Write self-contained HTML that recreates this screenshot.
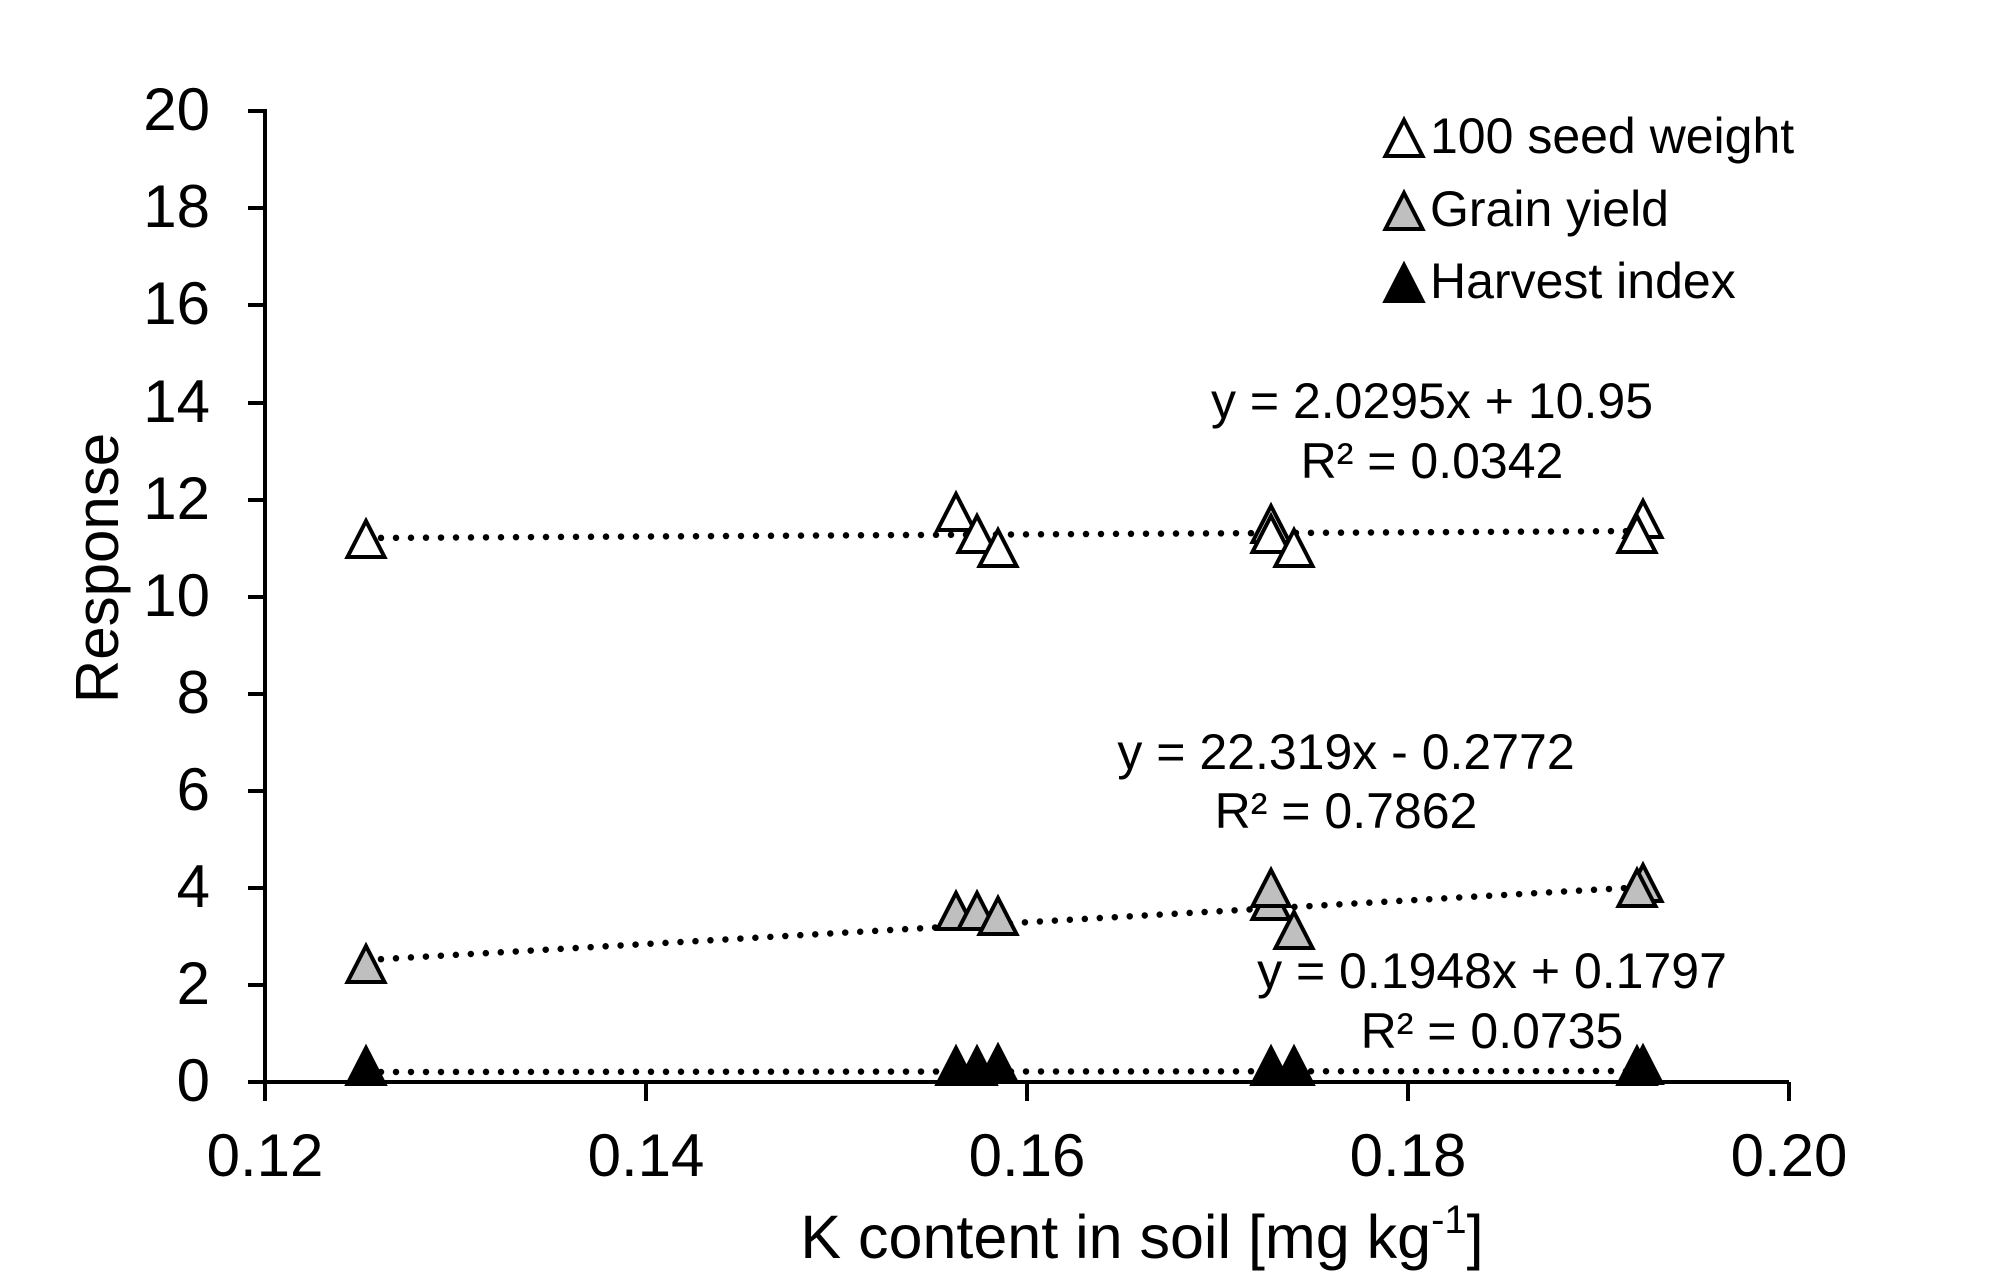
<!DOCTYPE html>
<html><head><meta charset="utf-8"><style>
html,body{margin:0;padding:0;background:#fff}
svg{display:block}
text{font-family:"Liberation Sans",Arial,sans-serif;fill:#000}
</style></head><body>
<svg width="2000" height="1282" viewBox="0 0 2000 1282" xmlns="http://www.w3.org/2000/svg">
<defs>
<polygon id="tri" points="0,-24 -18.5,12 18.5,12" stroke="#000" stroke-width="4" stroke-linejoin="miter"/>
</defs>
<rect width="2000" height="1282" fill="#fff"/>
<g stroke="#000" stroke-width="4" fill="none">
<line x1="265" y1="109" x2="265" y2="1084"/>
<line x1="263" y1="1082" x2="1789" y2="1082"/>
<line x1="248" y1="111" x2="265" y2="111"/>
<line x1="248" y1="208" x2="265" y2="208"/>
<line x1="248" y1="305" x2="265" y2="305"/>
<line x1="248" y1="403" x2="265" y2="403"/>
<line x1="248" y1="500" x2="265" y2="500"/>
<line x1="248" y1="597" x2="265" y2="597"/>
<line x1="248" y1="694" x2="265" y2="694"/>
<line x1="248" y1="791" x2="265" y2="791"/>
<line x1="248" y1="888" x2="265" y2="888"/>
<line x1="248" y1="985" x2="265" y2="985"/>
<line x1="248" y1="1082" x2="265" y2="1082"/>
<line x1="265" y1="1082" x2="265" y2="1101"/>
<line x1="646" y1="1082" x2="646" y2="1101"/>
<line x1="1027" y1="1082" x2="1027" y2="1101"/>
<line x1="1408" y1="1082" x2="1408" y2="1101"/>
<line x1="1789" y1="1082" x2="1789" y2="1101"/>
</g>
<g font-size="60" text-anchor="end">
<text x="210" y="130">20</text>
<text x="210" y="227">18</text>
<text x="210" y="324">16</text>
<text x="210" y="422">14</text>
<text x="210" y="519">12</text>
<text x="210" y="616">10</text>
<text x="210" y="713">8</text>
<text x="210" y="810">6</text>
<text x="210" y="907">4</text>
<text x="210" y="1004">2</text>
<text x="210" y="1101">0</text>
</g>
<g font-size="60" text-anchor="middle">
<text x="265" y="1176">0.12</text>
<text x="646" y="1176">0.14</text>
<text x="1027" y="1176">0.16</text>
<text x="1408" y="1176">0.18</text>
<text x="1789" y="1176">0.20</text>
</g>
<text x="1142" y="1258" font-size="61" text-anchor="middle">K content in soil [mg kg<tspan dy="-25" font-size="40">-1</tspan><tspan dy="25">]</tspan></text>
<text transform="translate(118,568) rotate(-90)" font-size="60" text-anchor="middle">Response</text>

<g stroke="#000" stroke-width="6.5" stroke-linecap="round" stroke-dasharray="0 15" fill="none">
<line x1="366" y1="538" x2="1643" y2="531"/>
<line x1="366" y1="960" x2="1643" y2="887"/>
<line x1="366" y1="1072" x2="1643" y2="1071"/>
</g>

<g fill="#fff">
<use href="#tri" x="366" y="545"/>
<use href="#tri" x="956" y="518"/>
<use href="#tri" x="977" y="540"/>
<use href="#tri" x="998" y="554"/>
<use href="#tri" x="1271" y="530"/>
<use href="#tri" x="1271" y="540"/>
<use href="#tri" x="1294" y="554"/>
<use href="#tri" x="1643" y="525"/>
<use href="#tri" x="1637" y="540"/>
</g>
<g fill="#bfbfbf">
<use href="#tri" x="366" y="970"/>
<use href="#tri" x="956" y="917"/>
<use href="#tri" x="977" y="917"/>
<use href="#tri" x="998" y="922"/>
<use href="#tri" x="1271" y="907"/>
<use href="#tri" x="1271" y="894"/>
<use href="#tri" x="1294" y="936"/>
<use href="#tri" x="1643" y="889"/>
<use href="#tri" x="1637" y="894"/>
</g>
<g fill="#000">
<use href="#tri" x="366" y="1072"/>
<use href="#tri" x="956" y="1072"/>
<use href="#tri" x="977" y="1072"/>
<use href="#tri" x="998" y="1070"/>
<use href="#tri" x="1271" y="1072"/>
<use href="#tri" x="1294" y="1072"/>
<use href="#tri" x="1637" y="1072"/>
<use href="#tri" x="1643" y="1071"/>
</g>

<g font-size="50" text-anchor="middle">
<text x="1432" y="418">y = 2.0295x + 10.95</text>
<text x="1432" y="478">R² = 0.0342</text>
<text x="1346" y="769">y = 22.319x - 0.2772</text>
<text x="1346" y="828">R² = 0.7862</text>
<text x="1492" y="988">y = 0.1948x + 0.1797</text>
<text x="1492" y="1048">R² = 0.0735</text>
</g>

<use href="#tri" x="1404" y="144" fill="#fff"/>
<use href="#tri" x="1404" y="217" fill="#bfbfbf"/>
<use href="#tri" x="1404" y="289" fill="#000"/>
<g font-size="50">
<text x="1430" y="153">100 seed weight</text>
<text x="1430" y="226">Grain yield</text>
<text x="1430" y="298">Harvest index</text>
</g>
</svg>
</body></html>
